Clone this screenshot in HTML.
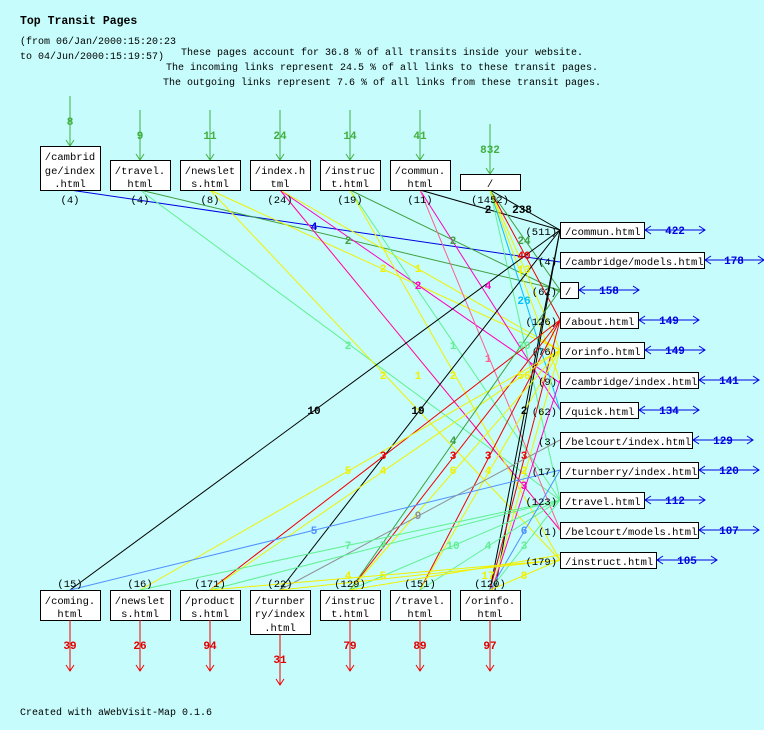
<!DOCTYPE html>
<html><head><meta charset="utf-8"><style>
html,body{margin:0;padding:0;background:#c6fcfc;}
svg{display:block;font-family:"Liberation Mono",monospace;font-size:10.5px;}
.b{font-weight:bold;font-size:11px}
.h{font-size:10px}
</style></head><body>
<svg width="764" height="730" xmlns="http://www.w3.org/2000/svg">
<rect width="764" height="730" fill="#c6fcfc"/>
<text x="20" y="24" font-weight="bold" font-size="11.5">Top Transit Pages</text>
<text class="h" x="20" y="44">(from 06/Jan/2000:15:20:23</text>
<text class="h" x="20" y="59">to 04/Jun/2000:15:19:57)</text>
<g text-anchor="middle" class="h">
<text x="382" y="55">These pages account for 36.8 % of all transits inside your website.</text>
<text x="382" y="70">The incoming links represent 24.5 % of all links to these transit pages.</text>
<text x="382" y="85">The outgoing links represent 7.6 % of all links from these transit pages.</text>
</g>
<text class="h" x="20" y="715">Created with aWebVisit-Map 0.1.6</text>

<g fill="none" stroke-width="1">
<line x1="70" y1="190" x2="560" y2="262" stroke="#0000e0"/>
<line x1="140" y1="190" x2="560" y2="290" stroke="#40a040"/>
<line x1="140" y1="190" x2="560" y2="500" stroke="#60f090"/>
<line x1="210" y1="190" x2="560" y2="350" stroke="#f0f000"/>
<line x1="210" y1="190" x2="560" y2="560" stroke="#f0f000"/>
<line x1="280" y1="190" x2="560" y2="383" stroke="#ff00c0"/>
<line x1="280" y1="190" x2="560" y2="350" stroke="#f0f000"/>
<line x1="280" y1="190" x2="560" y2="530" stroke="#f0f000"/>
<line x1="280" y1="190" x2="560" y2="530" stroke="#ff00c0"/>
<line x1="350" y1="190" x2="560" y2="292" stroke="#40a040"/>
<line x1="350" y1="190" x2="560" y2="500" stroke="#60f090"/>
<line x1="350" y1="190" x2="560" y2="560" stroke="#f0f000"/>
<line x1="420" y1="190" x2="560" y2="230" stroke="#000"/>
<line x1="420" y1="190" x2="560" y2="410" stroke="#ff00c0"/>
<line x1="420" y1="190" x2="560" y2="530" stroke="#ff6090"/>
<line x1="490" y1="190" x2="560" y2="230" stroke="#000"/>
<line x1="490" y1="190" x2="560" y2="320" stroke="#f00000"/>
<line x1="490" y1="190" x2="560" y2="290" stroke="#40a040"/>
<line x1="490" y1="190" x2="560" y2="350" stroke="#f0f000"/>
<line x1="490" y1="190" x2="560" y2="410" stroke="#00c0ff"/>
<line x1="490" y1="190" x2="560" y2="500" stroke="#60f090"/>
<line x1="490" y1="190" x2="560" y2="380" stroke="#f0f000"/>
<line x1="560" y1="230" x2="70" y2="590" stroke="#000"/>
<line x1="560" y1="230" x2="280" y2="590" stroke="#000"/>
<line x1="560" y1="230" x2="490" y2="590" stroke="#000"/>
<line x1="560" y1="230" x2="495" y2="590" stroke="#000"/>
<line x1="560" y1="320" x2="210" y2="590" stroke="#f00000"/>
<line x1="560" y1="320" x2="350" y2="590" stroke="#f00000"/>
<line x1="560" y1="320" x2="420" y2="590" stroke="#f00000"/>
<line x1="560" y1="320" x2="490" y2="590" stroke="#f00000"/>
<line x1="560" y1="350" x2="140" y2="590" stroke="#f0f000"/>
<line x1="560" y1="350" x2="210" y2="590" stroke="#f0f000"/>
<line x1="560" y1="350" x2="350" y2="590" stroke="#f0f000"/>
<line x1="560" y1="350" x2="420" y2="590" stroke="#f0f000"/>
<line x1="560" y1="350" x2="492" y2="590" stroke="#f0f000"/>
<line x1="560" y1="380" x2="492" y2="590" stroke="#ff00c0"/>
<line x1="560" y1="290" x2="350" y2="590" stroke="#40a040"/>
<line x1="560" y1="470" x2="70" y2="590" stroke="#5090ff"/>
<line x1="560" y1="440" x2="280" y2="590" stroke="#909090"/>
<line x1="560" y1="500" x2="140" y2="590" stroke="#60f090"/>
<line x1="560" y1="500" x2="210" y2="590" stroke="#60f090"/>
<line x1="560" y1="500" x2="350" y2="590" stroke="#60f090"/>
<line x1="560" y1="500" x2="420" y2="590" stroke="#60f090"/>
<line x1="560" y1="500" x2="490" y2="590" stroke="#60f090"/>
<line x1="560" y1="470" x2="490" y2="590" stroke="#5090ff"/>
<line x1="560" y1="560" x2="210" y2="590" stroke="#f0f000"/>
<line x1="560" y1="560" x2="280" y2="590" stroke="#f0f000"/>
<line x1="560" y1="560" x2="490" y2="590" stroke="#f0f000"/>
<line x1="560" y1="555" x2="350" y2="590" stroke="#f0f000"/>
</g>
<g class="b" text-anchor="middle">
<text x="314" y="230" fill="#0000e0">4</text>
<text x="348" y="244" fill="#40a040">2</text>
<text x="453" y="244" fill="#40a040">2</text>
<text x="383" y="272" fill="#f0f000">2</text>
<text x="418" y="272" fill="#f0f000">1</text>
<text x="418" y="289" fill="#ff00c0">2</text>
<text x="488" y="289" fill="#ff00c0">4</text>
<text x="488" y="213" fill="#000">2</text>
<text x="522" y="213" fill="#000">238</text>
<text x="524" y="244" fill="#40a040">24</text>
<text x="524" y="259" fill="#f00000">40</text>
<text x="524" y="273" fill="#f0f000">13</text>
<text x="524" y="304" fill="#00c0ff">26</text>
<text x="348" y="349" fill="#60f090">2</text>
<text x="453" y="349" fill="#60f090">1</text>
<text x="524" y="349" fill="#60f090">30</text>
<text x="488" y="362" fill="#ff6090">1</text>
<text x="383" y="379" fill="#f0f000">2</text>
<text x="418" y="379" fill="#f0f000">1</text>
<text x="453" y="379" fill="#f0f000">2</text>
<text x="524" y="379" fill="#f0f000">56</text>
<text x="314" y="414" fill="#000">10</text>
<text x="418" y="414" fill="#000">19</text>
<text x="524" y="414" fill="#000">2</text>
<text x="453" y="444" fill="#40a040">4</text>
<text x="383" y="459" fill="#f00000">3</text>
<text x="453" y="459" fill="#f00000">3</text>
<text x="488" y="459" fill="#f00000">3</text>
<text x="524" y="459" fill="#f00000">3</text>
<text x="348" y="474" fill="#f0f000">5</text>
<text x="383" y="474" fill="#f0f000">4</text>
<text x="453" y="474" fill="#f0f000">6</text>
<text x="488" y="474" fill="#f0f000">4</text>
<text x="524" y="474" fill="#f0f000">2</text>
<text x="524" y="489" fill="#ff00c0">3</text>
<text x="418" y="519" fill="#909090">9</text>
<text x="314" y="534" fill="#5090ff">5</text>
<text x="524" y="534" fill="#5090ff">6</text>
<text x="348" y="549" fill="#60f090">7</text>
<text x="383" y="549" fill="#60f090">7</text>
<text x="453" y="549" fill="#60f090">10</text>
<text x="488" y="549" fill="#60f090">4</text>
<text x="524" y="549" fill="#60f090">3</text>
<text x="348" y="579" fill="#f0f000">4</text>
<text x="383" y="579" fill="#f0f000">5</text>
<text x="488" y="579" fill="#f0f000">17</text>
<text x="524" y="579" fill="#f0f000">8</text>
</g>

<g stroke="#40b040" fill="none">
<line x1="70" y1="96" x2="70" y2="146"/><polyline points="66,140 70,146 74,140"/>
<line x1="140" y1="110" x2="140" y2="160"/><polyline points="136,154 140,160 144,154"/>
<line x1="210" y1="110" x2="210" y2="160"/><polyline points="206,154 210,160 214,154"/>
<line x1="280" y1="110" x2="280" y2="160"/><polyline points="276,154 280,160 284,154"/>
<line x1="350" y1="110" x2="350" y2="160"/><polyline points="346,154 350,160 354,154"/>
<line x1="420" y1="110" x2="420" y2="160"/><polyline points="416,154 420,160 424,154"/>
<line x1="490" y1="124" x2="490" y2="174"/><polyline points="486,168 490,174 494,168"/>
</g>
<g class="b" fill="#40b040" text-anchor="middle">
<text x="70" y="125">8</text><text x="140" y="139">9</text><text x="210" y="139">11</text>
<text x="280" y="139">24</text><text x="350" y="139">14</text><text x="420" y="139">41</text>
<text x="490" y="153">832</text>
</g>

<g fill="#fff" stroke="#000">
<rect x="40.5" y="146.5" width="60" height="44"/>
<rect x="110.5" y="160.5" width="60" height="30"/>
<rect x="180.5" y="160.5" width="60" height="30"/>
<rect x="250.5" y="160.5" width="60" height="30"/>
<rect x="320.5" y="160.5" width="60" height="30"/>
<rect x="390.5" y="160.5" width="60" height="30"/>
<rect x="460.5" y="174.5" width="60" height="16"/>
</g>
<g text-anchor="middle">
<text x="70" y="160">/cambrid</text><text x="70" y="174">ge/index</text><text x="70" y="187">.html</text>
<text x="140" y="174">/travel.</text><text x="140" y="187">html</text>
<text x="210" y="174">/newslet</text><text x="210" y="187">s.html</text>
<text x="280" y="174">/index.h</text><text x="280" y="187">tml</text>
<text x="350" y="174">/instruc</text><text x="350" y="187">t.html</text>
<text x="420" y="174">/commun.</text><text x="420" y="187">html</text>
<text x="490" y="187">/</text>
<text x="70" y="203">(4)</text><text x="140" y="203">(4)</text><text x="210" y="203">(8)</text>
<text x="280" y="203">(24)</text><text x="350" y="203">(19)</text><text x="420" y="203">(11)</text>
<text x="490" y="203">(1452)</text>
</g>

<g fill="#fff" stroke="#000">
<rect x="560.5" y="222.5" width="84" height="16"/>
<rect x="560.5" y="252.5" width="144" height="16"/>
<rect x="560.5" y="282.5" width="18" height="16"/>
<rect x="560.5" y="312.5" width="78" height="16"/>
<rect x="560.5" y="342.5" width="84" height="16"/>
<rect x="560.5" y="372.5" width="138" height="16"/>
<rect x="560.5" y="402.5" width="78" height="16"/>
<rect x="560.5" y="432.5" width="132" height="16"/>
<rect x="560.5" y="462.5" width="138" height="16"/>
<rect x="560.5" y="492.5" width="84" height="16"/>
<rect x="560.5" y="522.5" width="138" height="16"/>
<rect x="560.5" y="552.5" width="96" height="16"/>
</g>
<g>
<text x="565" y="235">/commun.html</text>
<text x="565" y="265">/cambridge/models.html</text>
<text x="565" y="295">/</text>
<text x="565" y="325">/about.html</text>
<text x="565" y="355">/orinfo.html</text>
<text x="565" y="385">/cambridge/index.html</text>
<text x="565" y="415">/quick.html</text>
<text x="565" y="445">/belcourt/index.html</text>
<text x="565" y="475">/turnberry/index.html</text>
<text x="565" y="505">/travel.html</text>
<text x="565" y="535">/belcourt/models.html</text>
<text x="565" y="565">/instruct.html</text>
</g>
<g text-anchor="end">
<text x="557" y="235">(511)</text><text x="557" y="265">(4)</text><text x="557" y="295">(62)</text>
<text x="557" y="325">(126)</text><text x="557" y="355">(76)</text><text x="557" y="385">(9)</text>
<text x="557" y="415">(62)</text><text x="557" y="445">(3)</text><text x="557" y="475">(17)</text>
<text x="557" y="505">(123)</text><text x="557" y="535">(1)</text><text x="557" y="565">(179)</text>
</g>
<g stroke="#0000e0" fill="none">
<line x1="645" y1="230" x2="705" y2="230"/><polyline points="651,226 645,230 651,234"/><polyline points="699,226 705,230 699,234"/>
<line x1="705" y1="260" x2="764" y2="260"/><polyline points="711,256 705,260 711,264"/><polyline points="758,256 764,260 758,264"/>
<line x1="579" y1="290" x2="639" y2="290"/><polyline points="585,286 579,290 585,294"/><polyline points="633,286 639,290 633,294"/>
<line x1="639" y1="320" x2="699" y2="320"/><polyline points="645,316 639,320 645,324"/><polyline points="693,316 699,320 693,324"/>
<line x1="645" y1="350" x2="705" y2="350"/><polyline points="651,346 645,350 651,354"/><polyline points="699,346 705,350 699,354"/>
<line x1="699" y1="380" x2="759" y2="380"/><polyline points="705,376 699,380 705,384"/><polyline points="753,376 759,380 753,384"/>
<line x1="639" y1="410" x2="699" y2="410"/><polyline points="645,406 639,410 645,414"/><polyline points="693,406 699,410 693,414"/>
<line x1="693" y1="440" x2="753" y2="440"/><polyline points="699,436 693,440 699,444"/><polyline points="747,436 753,440 747,444"/>
<line x1="699" y1="470" x2="759" y2="470"/><polyline points="705,466 699,470 705,474"/><polyline points="753,466 759,470 753,474"/>
<line x1="645" y1="500" x2="705" y2="500"/><polyline points="651,496 645,500 651,504"/><polyline points="699,496 705,500 699,504"/>
<line x1="699" y1="530" x2="759" y2="530"/><polyline points="705,526 699,530 705,534"/><polyline points="753,526 759,530 753,534"/>
<line x1="657" y1="560" x2="717" y2="560"/><polyline points="663,556 657,560 663,564"/><polyline points="711,556 717,560 711,564"/>
</g>
<g class="b" fill="#0000e0" text-anchor="middle">
<text x="675" y="234">422</text><text x="734" y="264">178</text><text x="609" y="294">158</text>
<text x="669" y="324">149</text><text x="675" y="354">149</text><text x="729" y="384">141</text>
<text x="669" y="414">134</text><text x="723" y="444">129</text><text x="729" y="474">120</text>
<text x="675" y="504">112</text><text x="729" y="534">107</text><text x="687" y="564">105</text>
</g>

<g fill="#fff" stroke="#000">
<rect x="40.5" y="590.5" width="60" height="30"/>
<rect x="110.5" y="590.5" width="60" height="30"/>
<rect x="180.5" y="590.5" width="60" height="30"/>
<rect x="250.5" y="590.5" width="60" height="44"/>
<rect x="320.5" y="590.5" width="60" height="30"/>
<rect x="390.5" y="590.5" width="60" height="30"/>
<rect x="460.5" y="590.5" width="60" height="30"/>
</g>
<g text-anchor="middle">
<text x="70" y="604">/coming.</text><text x="70" y="617">html</text>
<text x="140" y="604">/newslet</text><text x="140" y="617">s.html</text>
<text x="210" y="604">/product</text><text x="210" y="617">s.html</text>
<text x="280" y="604">/turnber</text><text x="280" y="617">ry/index</text><text x="280" y="631">.html</text>
<text x="350" y="604">/instruc</text><text x="350" y="617">t.html</text>
<text x="420" y="604">/travel.</text><text x="420" y="617">html</text>
<text x="490" y="604">/orinfo.</text><text x="490" y="617">html</text>
<text x="70" y="587">(15)</text><text x="140" y="587">(16)</text><text x="210" y="587">(171)</text>
<text x="280" y="587">(22)</text><text x="350" y="587">(129)</text><text x="420" y="587">(151)</text>
<text x="490" y="587">(120)</text>
</g>
<g stroke="#f00000" fill="none">
<line x1="70" y1="620" x2="70" y2="671"/><polyline points="66,665 70,671 74,665"/>
<line x1="140" y1="620" x2="140" y2="671"/><polyline points="136,665 140,671 144,665"/>
<line x1="210" y1="620" x2="210" y2="671"/><polyline points="206,665 210,671 214,665"/>
<line x1="280" y1="634" x2="280" y2="685"/><polyline points="276,679 280,685 284,679"/>
<line x1="350" y1="620" x2="350" y2="671"/><polyline points="346,665 350,671 354,665"/>
<line x1="420" y1="620" x2="420" y2="671"/><polyline points="416,665 420,671 424,665"/>
<line x1="490" y1="620" x2="490" y2="671"/><polyline points="486,665 490,671 494,665"/>
</g>
<g class="b" fill="#e00000" text-anchor="middle">
<text x="70" y="649">39</text><text x="140" y="649">26</text><text x="210" y="649">94</text>
<text x="280" y="663">31</text><text x="350" y="649">79</text><text x="420" y="649">89</text>
<text x="490" y="649">97</text>
</g>
</svg>
</body></html>
